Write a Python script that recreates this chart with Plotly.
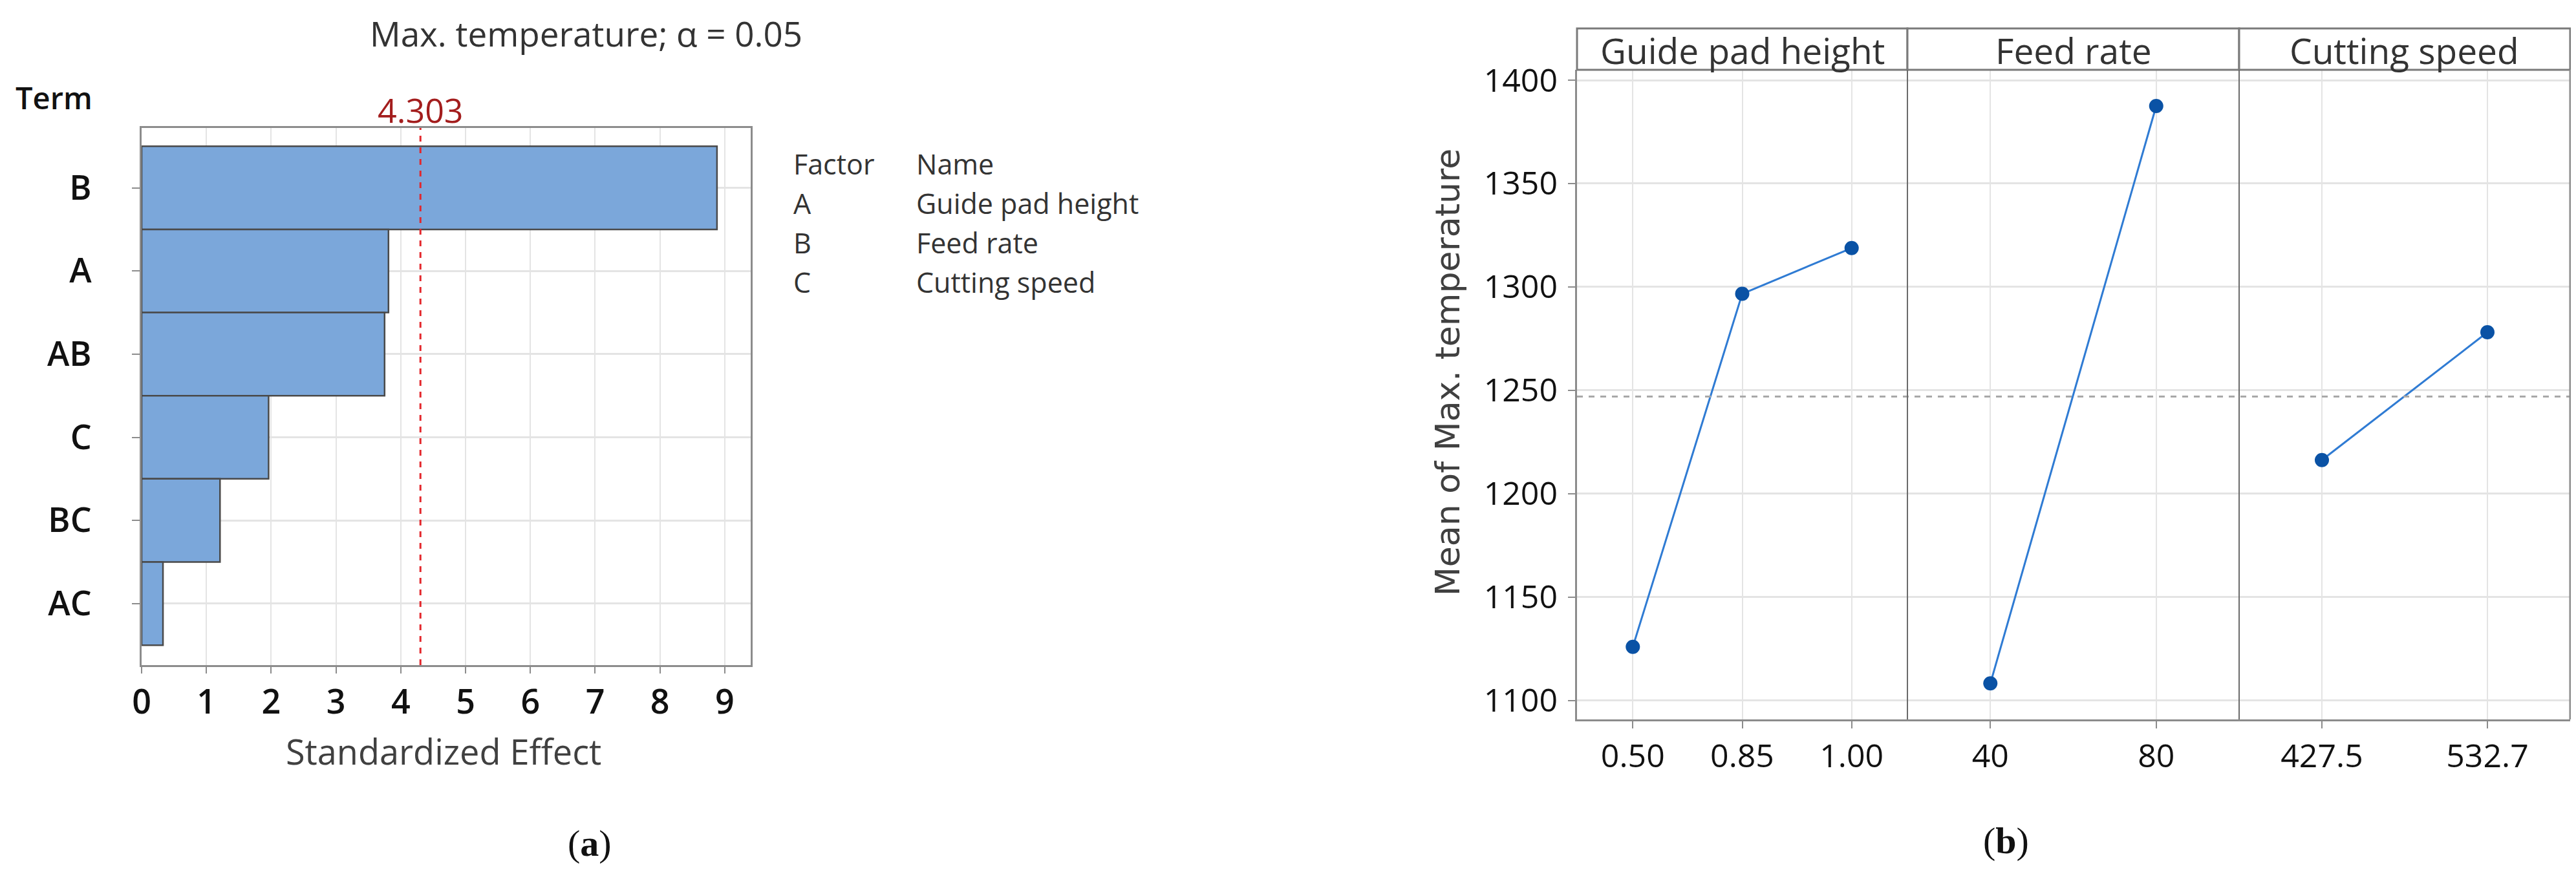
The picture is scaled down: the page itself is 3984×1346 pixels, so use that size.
import plotly.graph_objects as go

# ---------------- data ----------------
terms = ["B", "A", "AB", "C", "BC", "AC"]
effects = [8.88, 3.81, 3.75, 1.96, 1.21, 0.33]
critical_value = 4.303
effect_ticks = [0, 1, 2, 3, 4, 5, 6, 7, 8, 9]

factor_codes = ["A", "B", "C"]
factor_names = ["Guide pad height", "Feed rate", "Cutting speed"]

guide_levels = ["0.50", "0.85", "1.00"]
guide_means = [1126.0, 1296.7, 1318.8]
feed_levels = ["40", "80"]
feed_means = [1108.3, 1387.5]
speed_levels = ["427.5", "532.7"]
speed_means = [1216.3, 1278.1]
grand_mean = 1247.0
temp_ticks = [1100, 1150, 1200, 1250, 1300, 1350, 1400]

# ---------------- layout helpers ----------------
W, H = 3984, 1346
def px(x):
    return x / W
def py(y):
    return 1 - y / H

FONT = "Open Sans"
GRID = "#e4e4e4"
FRAME = "#8c8c8c"

fig = go.Figure()

# ---- (a) Pareto chart ----
fig.add_trace(go.Bar(
    x=effects, y=terms, orientation="h", width=1.0,
    marker=dict(color="#7ba7da", line=dict(color="#4a4a4a", width=2.5)),
    xaxis="x", yaxis="y", showlegend=False, hoverinfo="x+y",
))

# ---- (b) main effects ----
line_style = dict(color="#2f7bd3", width=3)
marker_style = dict(color="#0a52a5", size=22, symbol="circle")
for lv, mv, xa in [(guide_levels, guide_means, "x2"),
                   (feed_levels, feed_means, "x3"),
                   (speed_levels, speed_means, "x4")]:
    fig.add_trace(go.Scatter(
        x=lv, y=mv, mode="lines+markers", line=line_style, marker=marker_style,
        xaxis=xa, yaxis="y2", showlegend=False,
    ))

a_dom_x = [px(211), px(1153)]
a_dom_y = [py(1021), py(190)]
b_doms = [[px(2431), px(2942)], [px(2942), px(3455)], [px(3455), px(3967)]]
b_dom_y = [py(1105), py(100)]
strip_top = py(36)

tickfont = dict(family=FONT, size=52, color="#111111", weight=600)
btickfont = dict(family=FONT, size=50, color="#111111")

layout = dict(
    width=W, height=H,
    margin=dict(l=0, r=0, t=0, b=0, autoexpand=False),
    paper_bgcolor="white", plot_bgcolor="white",
    font=dict(family=FONT, color="#333333"),
    xaxis=dict(
        domain=a_dom_x, anchor="y", range=[0, 9.4], automargin=False,
        tickmode="array", tickvals=effect_ticks,
        showgrid=True, gridcolor=GRID, gridwidth=2, zeroline=False,
        showline=True, linecolor=FRAME, linewidth=3, mirror=True,
        ticks="outside", ticklen=10, tickwidth=2, tickcolor=FRAME,
        tickfont=tickfont,
    ),
    yaxis=dict(
        domain=a_dom_y, anchor="x", type="category", automargin=False,
        categoryorder="array", categoryarray=terms,
        range=[5.74, -0.72],
        showgrid=True, gridcolor=GRID, gridwidth=3, zeroline=False,
        showline=True, linecolor=FRAME, linewidth=3, mirror=True,
        ticks="outside", ticklen=12, tickwidth=2, tickcolor=FRAME,
        tickfont=tickfont, ticklabelstandoff=52,
    ),
    yaxis2=dict(
        domain=b_dom_y, anchor="x2", range=[1090.9, 1405], automargin=False,
        tickmode="array", tickvals=temp_ticks,
        showgrid=True, gridcolor=GRID, gridwidth=3, zeroline=False,
        showline=True, linecolor=FRAME, linewidth=3,
        ticks="outside", ticklen=11, tickwidth=2, tickcolor=FRAME,
        tickfont=btickfont, ticklabelstandoff=6,
    ),
)
ranges = [[-0.51, 2.51], [-0.5, 1.5], [-0.5, 1.5]]
for i, (dom, rg) in enumerate(zip(b_doms, ranges)):
    layout["xaxis%d" % (i + 2)] = dict(
        domain=dom, anchor="y2", type="category", range=rg, automargin=False,
        showgrid=True, gridcolor=GRID, gridwidth=2, zeroline=False,
        showline=True, linecolor=FRAME, linewidth=3,
        ticks="outside", ticklen=11, tickwidth=2, tickcolor=FRAME,
        tickfont=btickfont,
    )
fig.update_layout(**layout)

shapes = []
# critical value line
shapes.append(dict(type="line", xref="x", yref="paper", x0=critical_value, x1=critical_value,
                   y0=a_dom_y[0], y1=a_dom_y[1], line=dict(color="#e3262b", width=3, dash="dash"),
                   layer="above"))
# grand mean reference line
shapes.append(dict(type="line", xref="paper", yref="y2", x0=b_doms[0][0], x1=b_doms[2][1],
                   y0=grand_mean, y1=grand_mean, line=dict(color="#a8a8a8", width=3, dash="dash"),
                   layer="above"))
# strips
for dom in b_doms:
    shapes.append(dict(type="rect", xref="paper", yref="paper", x0=dom[0], x1=dom[1],
                       y0=b_dom_y[1], y1=strip_top, line=dict(color="#7a7a7a", width=3),
                       fillcolor="white", layer="above"))
# panel separators and right border
for xb in [b_doms[1][0], b_doms[2][0]]:
    shapes.append(dict(type="line", xref="paper", yref="paper", x0=xb, x1=xb,
                       y0=b_dom_y[0], y1=b_dom_y[1], line=dict(color="#6b6b6b", width=2)))
shapes.append(dict(type="line", xref="paper", yref="paper", x0=b_doms[2][1], x1=b_doms[2][1],
                   y0=b_dom_y[0], y1=b_dom_y[1], line=dict(color=FRAME, width=3)))
fig.update_layout(shapes=shapes)


def note(text, x, y, size, color="#333333", xanchor="center", xref="paper", family=FONT,
         weight=None, **kw):
    f = dict(family=family, size=size, color=color)
    if weight:
        f["weight"] = weight
    return dict(text=text, x=x, y=y, xref=xref, yref="paper", xanchor=xanchor, yanchor="middle",
                showarrow=False, font=f, **kw)


ann = []
ann.append(note("Max. temperature; α = 0.05", px(898), py(43), 53))
ann.append(note("Term", px(14), py(143), 47, color="#111111", xanchor="left", weight=600))
ann.append(note(f"{critical_value:.3f}", critical_value, py(161), 52, color="#a31d1d", xref="x"))
ann.append(note("Standardized Effect", px(678), py(1154), 54, color="#404040"))
# factor table
rows_y = [245, 307, 368, 428]
ann.append(note("Factor", px(1217), py(rows_y[0]), 43, xanchor="left"))
ann.append(note("Name", px(1407), py(rows_y[0]), 43, xanchor="left"))
for code, name, yy in zip(factor_codes, factor_names, rows_y[1:]):
    ann.append(note(code, px(1217), py(yy), 43, xanchor="left"))
    ann.append(note(name, px(1407), py(yy), 43, xanchor="left"))
# strip labels
for name, dom in zip(factor_names, b_doms):
    ann.append(note(name, (dom[0] + dom[1]) / 2, py(69), 55))
ann.append(note("Mean of Max. temperature", px(2231), py(568), 52, color="#404040",
                family="DejaVu Sans", textangle=-90))
ann.append(note("(<b>a</b>)", px(904), py(1296), 58, color="#111111", family="Liberation Serif"))
ann.append(note("(<b>b</b>)", px(3094), py(1292), 58, color="#111111", family="Liberation Serif"))
fig.update_layout(annotations=ann)

fig.write_html("out.html")
